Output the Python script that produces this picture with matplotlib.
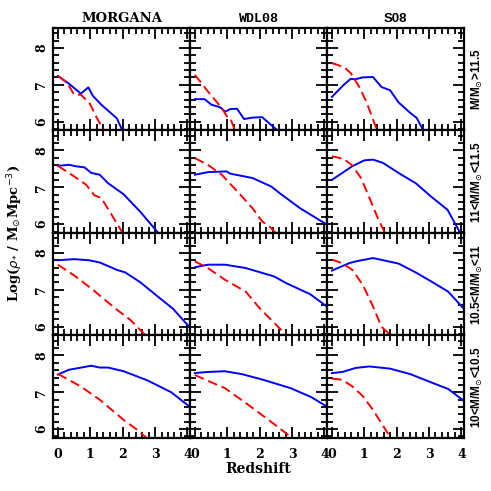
import numpy as np
import matplotlib.pyplot as plt
from matplotlib.ticker import MultipleLocator

plt.rcParams['lines.scale_dashes'] = False

models = ['MORGANA', 'WDL08', 'S08']
bins = [r'M/M$_{\odot}$>11.5', r'11<M/M$_{\odot}$<11.5',
        r'10.5<M/M$_{\odot}$<11', r'10<M/M$_{\odot}$<10.5']

# blue (solid) and red (dashed) curves, per mass bin (row) and model (column)
blue = {
    (0, 0): ([0, 0.34, 0.71, 0.94, 1.08, 1.34, 1.82, 1.97, 2.0],
             [7.24, 7.03, 6.76, 6.93, 6.70, 6.46, 6.09, 5.80, 5.72]),
    (0, 1): ([0, 0.3, 0.51, 0.78, 0.94, 1.09, 1.3, 1.52, 1.78, 2.08, 2.5, 2.55],
             [6.61, 6.61, 6.46, 6.39, 6.27, 6.34, 6.35, 6.07, 6.11, 6.12, 5.80, 5.74]),
    (0, 2): ([0.0, 0.37, 0.58, 0.73, 0.95, 1.27, 1.53, 1.8, 2.06, 2.43, 2.62, 2.8, 2.85],
             [6.67, 7.0, 7.16, 7.15, 7.2, 7.21, 6.94, 6.85, 6.52, 6.23, 6.1, 5.80, 5.70]),
    (1, 0): ([0, 0.34, 0.55, 0.82, 1.03, 1.29, 1.55, 2.03, 2.55, 3.1],
             [7.58, 7.61, 7.57, 7.54, 7.39, 7.34, 7.11, 6.81, 6.33, 5.76]),
    (1, 1): ([0, 0.4, 0.98, 1.09, 1.78, 2.36, 2.62, 3.25, 4.09],
             [7.34, 7.41, 7.43, 7.37, 7.25, 7.02, 6.84, 6.43, 5.98]),
    (1, 2): ([0.0, 0.63, 1.0, 1.27, 1.58, 2.11, 2.59, 3.06, 3.57, 3.97],
             [7.2, 7.57, 7.73, 7.75, 7.66, 7.36, 7.11, 6.75, 6.39, 5.75]),
    (2, 0): ([0, 0.5, 0.97, 1.29, 1.82, 2.08, 2.55, 3.08, 3.56, 4.08],
             [7.8, 7.83, 7.8, 7.74, 7.54, 7.47, 7.2, 6.82, 6.48, 5.97]),
    (2, 1): ([0, 0.4, 0.93, 1.57, 2.45, 2.82, 3.56, 4.1],
             [7.61, 7.68, 7.68, 7.59, 7.36, 7.18, 6.88, 6.53]),
    (2, 2): ([0.0, 0.53, 0.74, 1.27, 2.06, 2.59, 3.06, 3.59, 4.1],
             [7.52, 7.72, 7.77, 7.86, 7.71, 7.47, 7.23, 6.95, 6.46]),
    (3, 0): ([0, 0.34, 0.66, 1.03, 1.29, 1.55, 2.03, 2.77, 3.5, 4.08],
             [7.48, 7.61, 7.66, 7.72, 7.67, 7.67, 7.57, 7.32, 7.0, 6.6]),
    (3, 1): ([0, 0.4, 0.93, 1.46, 2.1, 2.96, 3.59, 4.1],
             [7.52, 7.55, 7.57, 7.49, 7.34, 7.11, 6.87, 6.6]),
    (3, 2): ([0.0, 0.32, 0.74, 1.16, 1.8, 2.43, 3.06, 3.59, 4.1],
             [7.52, 7.55, 7.66, 7.7, 7.64, 7.49, 7.27, 7.09, 6.75]),
}
red = {
    (0, 0): ([0, 0.29, 0.5, 0.71, 0.98, 1.18, 1.39, 1.42],
             [7.24, 7.05, 6.73, 6.73, 6.50, 6.14, 5.80, 5.72]),
    (0, 1): ([0, 0.4, 0.83, 0.99, 1.09, 1.22, 1.25],
             [7.27, 6.82, 6.37, 6.14, 6.10, 5.80, 5.72]),
    (0, 2): ([0.0, 0.37, 0.58, 0.84, 1.06, 1.22, 1.38, 1.41],
             [7.59, 7.48, 7.32, 6.95, 6.55, 6.18, 5.80, 5.72]),
    (1, 0): ([0, 0.34, 0.66, 0.87, 1.13, 1.34, 1.6, 2.0],
             [7.58, 7.39, 7.2, 7.07, 6.78, 6.71, 6.34, 5.76]),
    (1, 1): ([0, 0.4, 0.83, 1.36, 1.78, 2.08, 2.31, 2.5],
             [7.79, 7.61, 7.34, 6.84, 6.43, 6.07, 5.93, 5.76]),
    (1, 2): ([0.0, 0.37, 0.63, 0.9, 1.16, 1.42, 1.64],
             [7.84, 7.77, 7.59, 7.25, 6.71, 6.16, 5.76]),
    (2, 0): ([0, 0.55, 1.08, 1.82, 2.24, 2.71],
             [7.68, 7.36, 7.0, 6.46, 6.18, 5.76]),
    (2, 1): ([0, 0.4, 0.93, 1.57, 2.0, 2.52, 2.82],
             [7.77, 7.59, 7.27, 6.95, 6.5, 6.04, 5.76]),
    (2, 2): ([0.0, 0.32, 0.63, 0.95, 1.27, 1.53, 1.82],
             [7.82, 7.72, 7.54, 7.14, 6.55, 6.0, 5.76]),
    (3, 0): ([0, 0.7, 1.29, 2.03, 2.45, 2.74],
             [7.5, 7.16, 6.8, 6.25, 5.98, 5.76]),
    (3, 1): ([0, 0.4, 0.93, 1.57, 2.2, 2.68, 3.0],
             [7.47, 7.31, 7.11, 6.71, 6.3, 5.98, 5.76]),
    (3, 2): ([0.0, 0.32, 0.63, 0.95, 1.27, 1.53, 1.82],
             [7.37, 7.34, 7.16, 6.9, 6.52, 6.16, 5.76]),
}

title_fonts = ['DejaVu Serif', 'Liberation Mono', 'Liberation Sans']

fig, axes = plt.subplots(4, 3, figsize=(4.91, 4.91), dpi=100)
plt.subplots_adjust(left=0.108, right=0.945, top=0.943, bottom=0.108,
                    wspace=0, hspace=0)

for r in range(4):
    for c in range(3):
        ax = axes[r, c]
        bx, by = blue[(r, c)]
        rx, ry = red[(r, c)]
        ax.plot(bx, by, color='#0000ff', lw=1.4)
        ax.plot(rx, ry, color='#ff0000', lw=1.4, dashes=(7, 3.5))
        ax.set_xlim(-0.15, 4.08)
        ax.set_ylim(5.76, 8.54)
        ax.xaxis.set_major_locator(MultipleLocator(1))
        ax.xaxis.set_minor_locator(MultipleLocator(0.2))
        ax.yaxis.set_major_locator(MultipleLocator(1))
        ax.yaxis.set_minor_locator(MultipleLocator(0.2))
        ax.tick_params(which='both', direction='in', top=True, right=True,
                       width=1.3, labelsize=9)
        ax.tick_params(which='major', length=8)
        ax.tick_params(which='minor', length=4)
        for s in ax.spines.values():
            s.set_linewidth(1.6)
        if r < 3:
            ax.tick_params(labelbottom=False)
        else:
            ax.tick_params(axis='x', pad=7)
        if c > 0:
            ax.tick_params(labelleft=False)
        else:
            for lab in ax.get_yticklabels():
                lab.set_rotation(90)
                lab.set_va('center')
        for lab in ax.get_xticklabels() + ax.get_yticklabels():
            lab.set_fontweight('bold')
            lab.set_family('DejaVu Serif')
        if r == 0:
            ax.set_title(models[c], fontsize=9.5, fontweight='bold',
                         family=title_fonts[c], pad=4)
        if c == 2:
            ax.text(1.1, 0.5, bins[r], transform=ax.transAxes, rotation=90,
                    ha='center', va='center', fontsize=8.5, fontweight='bold',
                    family='Liberation Sans')

fig.text(0.525, 0.045, 'Redshift', ha='center', va='center', fontsize=10,
         fontweight='bold', family='DejaVu Serif')
fig.text(0.03, 0.525, r'Log($\rho_{*}$ / M$_{\odot}$Mpc$^{-3}$)', rotation=90,
         ha='center', va='center', fontsize=9.5, fontweight='bold',
         family='DejaVu Serif')

plt.savefig('out.png', dpi=100)
